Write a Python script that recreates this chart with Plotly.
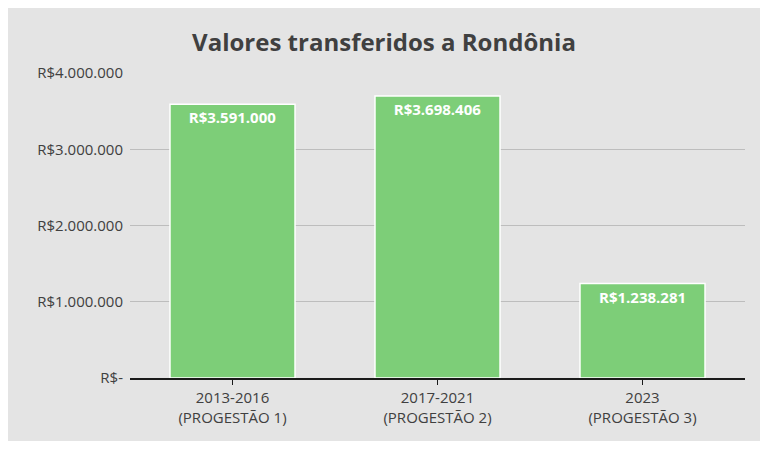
import plotly.graph_objects as go

categories = ["2013-2016<br>(PROGESTÃO 1)", "2017-2021<br>(PROGESTÃO 2)", "2023<br>(PROGESTÃO 3)"]
values = [3591000, 3698406, 1238281]
labels = ["R$3.591.000", "R$3.698.406", "R$1.238.281"]
tick_vals = [0, 1000000, 2000000, 3000000, 4000000]
tick_text = ["R$-", "R$1.000.000", "R$2.000.000", "R$3.000.000", "R$4.000.000"]

fig = go.Figure(go.Bar(
    x=categories, y=values, text=labels, textposition="inside", insidetextanchor="end",
    textfont=dict(color="white", size=15, family="Open Sans"), texttemplate="<b>%{text}</b>",
    marker=dict(color="#7DCE78", line=dict(color="white", width=1.5)), width=0.61,
))
fig.update_layout(
    width=752, height=433,
    margin=dict(l=122, r=15, t=65, b=63),
    paper_bgcolor="#E4E4E4", plot_bgcolor="rgba(0,0,0,0)",
    title=dict(text="<b>Valores transferidos a Rondônia</b>", x=0.5, y=0.94, xanchor="center",
               font=dict(size=24, color="#404040", family="Open Sans")),
    font=dict(family="Open Sans", color="#404040", size=15),
    showlegend=False,
)
fig.update_yaxes(range=[0, 4000000], tickvals=tick_vals, ticktext=tick_text,
                 gridcolor="#BDBDBD", gridwidth=1, zeroline=False, ticks="", ticklabelstandoff=6)
fig.update_xaxes(showline=True, linecolor="#1a1a1a", linewidth=2, ticks="outside",
                 tickcolor="#1a1a1a", ticklen=5, tickfont=dict(size=15))
fig.write_html("out.html")
